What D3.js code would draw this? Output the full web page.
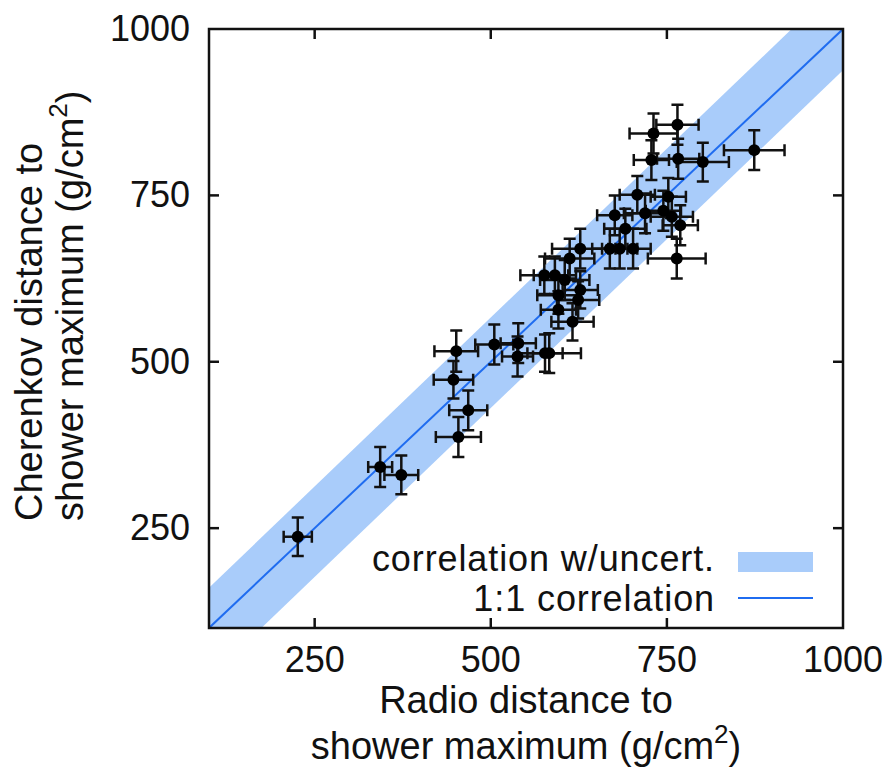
<!DOCTYPE html>
<html>
<head>
<meta charset="utf-8">
<script src="https://cdn.jsdelivr.net/npm/d3@7"></script>
<style>
  body { margin: 0; background: #fff; }
  text { font-family: "Liberation Sans", Arial, sans-serif; fill: #111; }
</style>
</head>
<body>
<div id="chart"></div>
<script>
// radio vs cherenkov Xmax distance (g/cm2)
const radio        = [226, 343, 373, 454, 468, 447, 451, 505, 539, 538, 577, 583, 616, 596, 596, 624, 627, 605, 576, 591, 612, 627, 669, 683, 702, 691, 764, 769, 676, 719, 745, 757, 708, 752, 728, 766, 801, 874, 731, 765];
const cherenkov    = [237, 342, 330, 387, 427, 473, 516, 526, 528, 508, 513, 513, 560, 578, 600, 593, 608, 623, 630, 630, 655, 670, 670, 670, 670, 700, 655, 705, 720, 723, 727, 718, 751, 748, 803, 805, 800, 818, 843, 856];
const radioErr     = [20, 17, 24, 32, 27, 28, 31, 27, 25, 22, 25, 45, 30, 25, 30, 30, 25, 35, 34, 30, 35, 40, 25, 25, 25, 30, 41, 25, 25, 30, 25, 30, 25, 25, 25, 30, 37, 43, 34, 30];
const cherenkovErr = [29, 30, 29, 30, 30, 28, 31, 30, 30, 30, 28, 30, 28, 28, 28, 28, 28, 30, 28, 28, 30, 30, 30, 30, 30, 30, 30, 30, 30, 30, 30, 30, 28, 28, 30, 30, 29, 30, 30, 30];

const xTicks = [250, 500, 750, 1000];
const yTicks = [250, 500, 750, 1000];

// fitted correlation band: y = slope*x + offset +- sigma
const fitSlope = 1.015;
const fitOffset = -9;
const fitSigma = 68;

const legendLabels = ["correlation w/uncert.", "1:1 correlation"];

const width = 892;
const height = 774;
const pL = 209, pT = 29, pR = 843, pB = 628;

const bandColor = "#a9ccfa";
const lineColor = "#1f6cf0";

const svg = d3.select("#chart")
  .append("svg")
  .attr("width", width)
  .attr("height", height);

const x = d3.scaleLinear().domain([100, 1000]).range([pL, pR]);
const y = d3.scaleLinear().domain([100, 1000]).range([pB, pT]);

svg.append("defs").append("clipPath")
  .attr("id", "plot-clip")
  .append("rect")
  .attr("x", pL).attr("y", pT)
  .attr("width", pR - pL).attr("height", pB - pT);

const plot = svg.append("g").attr("clip-path", "url(#plot-clip)");

// band
const bandX = [0, 1100];
const upper = bandX.map(v => [x(v), y(fitSlope * v + fitOffset + fitSigma)]);
const lower = bandX.map(v => [x(v), y(fitSlope * v + fitOffset - fitSigma)]).reverse();
plot.append("path")
  .attr("d", d3.line()(upper.concat(lower)) + "Z")
  .attr("fill", bandColor);

// 1:1 line
plot.append("line")
  .attr("x1", x(100)).attr("y1", y(100))
  .attr("x2", x(1000)).attr("y2", y(1000))
  .attr("stroke", lineColor)
  .attr("stroke-width", 2);

// error bars + points
const pts = radio.map((r, i) => ({x: r, y: cherenkov[i], ex: radioErr[i], ey: cherenkovErr[i]}));
const cap = 6;
const eb = plot.append("g")
  .attr("stroke", "#111")
  .attr("stroke-width", 2.5)
  .attr("fill", "none");

pts.forEach(d => {
  const cx = x(d.x), cy = y(d.y);
  const x0 = x(d.x - d.ex), x1 = x(d.x + d.ex);
  const y0 = y(d.y - d.ey), y1 = y(d.y + d.ey);
  eb.append("path").attr("d",
    `M${x0},${cy}H${x1}` +
    `M${x0},${cy - cap}V${cy + cap}` +
    `M${x1},${cy - cap}V${cy + cap}` +
    `M${cx},${y0}V${y1}` +
    `M${cx - cap},${y0}H${cx + cap}` +
    `M${cx - cap},${y1}H${cx + cap}`);
});

plot.append("g")
  .selectAll("circle")
  .data(pts)
  .enter().append("circle")
  .attr("cx", d => x(d.x))
  .attr("cy", d => y(d.y))
  .attr("r", 6)
  .attr("fill", "#000");

// frame and ticks (mirrored, inward)
const tickLen = 10;
const axes = svg.append("g").attr("stroke", "#111").attr("stroke-width", 2.5);
xTicks.filter(t => t < 1000).forEach(t => {
  axes.append("line").attr("x1", x(t)).attr("x2", x(t)).attr("y1", pB).attr("y2", pB - tickLen);
  axes.append("line").attr("x1", x(t)).attr("x2", x(t)).attr("y1", pT).attr("y2", pT + tickLen);
});
yTicks.filter(t => t < 1000).forEach(t => {
  axes.append("line").attr("y1", y(t)).attr("y2", y(t)).attr("x1", pL).attr("x2", pL + tickLen);
  axes.append("line").attr("y1", y(t)).attr("y2", y(t)).attr("x1", pR).attr("x2", pR - tickLen);
});
axes.append("rect")
  .attr("x", pL).attr("y", pT)
  .attr("width", pR - pL).attr("height", pB - pT)
  .attr("fill", "none");

const tickFs = 36;
const fs = 38;

svg.append("g").selectAll("text")
  .data(xTicks)
  .enter().append("text")
  .attr("x", d => x(d))
  .attr("y", 672)
  .attr("text-anchor", "middle")
  .style("font-size", tickFs + "px")
  .text(d => d);

svg.append("g").selectAll("text")
  .data(yTicks)
  .enter().append("text")
  .attr("x", 190)
  .attr("y", d => y(d) + 12)
  .attr("text-anchor", "end")
  .style("font-size", tickFs + "px")
  .text(d => d);

// axis titles
function unitsLine(sel) {
  sel.append("tspan").text("shower maximum (g/cm");
  sel.append("tspan").attr("dy", -16).style("font-size", "26px").text("2");
  sel.append("tspan").attr("dy", 16).text(")");
}

svg.append("text")
  .attr("x", 526).attr("y", 713)
  .attr("text-anchor", "middle")
  .style("font-size", fs + "px")
  .text("Radio distance to");
svg.append("text")
  .attr("x", 526).attr("y", 759)
  .attr("text-anchor", "middle")
  .style("font-size", fs + "px")
  .call(unitsLine);

const yl = svg.append("g").attr("transform", "translate(0,521) rotate(-90)");
yl.append("text")
  .attr("x", 0).attr("y", 42)
  .style("font-size", fs + "px")
  .text("Cherenkov distance to");
yl.append("text")
  .attr("x", 0).attr("y", 83)
  .style("font-size", fs + "px")
  .call(unitsLine);

// legend
const lg = svg.append("g");
lg.append("text")
  .attr("x", 715).attr("y", 571)
  .attr("text-anchor", "end")
  .style("font-size", "36px")
  .style("letter-spacing", "0.9px")
  .text(legendLabels[0]);
lg.append("rect")
  .attr("x", 738).attr("y", 552)
  .attr("width", 75).attr("height", 20)
  .attr("fill", bandColor);
lg.append("text")
  .attr("x", 715).attr("y", 611)
  .attr("text-anchor", "end")
  .style("font-size", "36px")
  .style("letter-spacing", "0.9px")
  .text(legendLabels[1]);
lg.append("line")
  .attr("x1", 738).attr("x2", 813)
  .attr("y1", 598).attr("y2", 598)
  .attr("stroke", lineColor)
  .attr("stroke-width", 2);
</script>
</body>
</html>
